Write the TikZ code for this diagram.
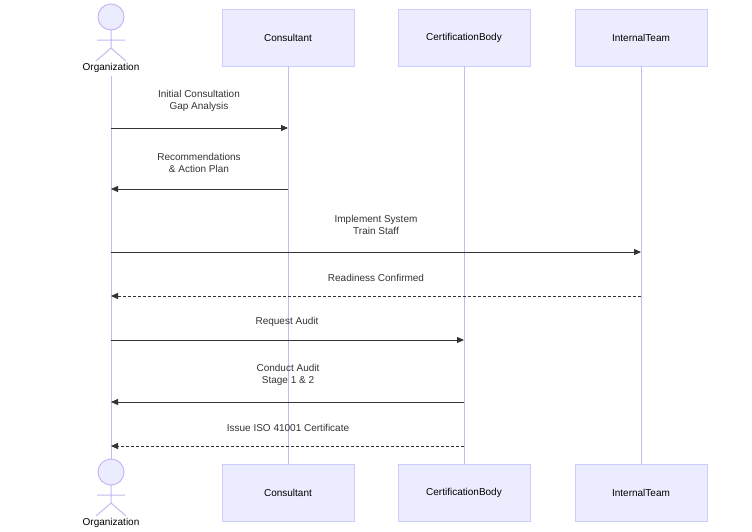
\documentclass[tikz,border=0pt]{standalone}
\usepackage{fontspec}
\setmainfont{Liberation Sans}
\usetikzlibrary{arrows.meta}
\definecolor{boxfill}{HTML}{ECECFF}
\definecolor{boxline}{HTML}{CCCCFF}
\definecolor{lifeline}{HTML}{C8B8F0}
\definecolor{msg}{HTML}{333333}
\tikzset{
  actorbox/.style={draw=boxline, fill=boxfill, minimum width=132pt, minimum height=57pt, font=\fontsize{10}{12}\selectfont},
  life/.style={draw=lifeline, line width=1pt},
  stick/.style={draw=lifeline, fill=boxfill, line width=1pt},
  call/.style={draw=msg, line width=0.9pt, -{Triangle[length=7pt,width=6pt]}},
  reply/.style={call, dash pattern=on 3pt off 2pt},
  lbl/.style={font=\fontsize{10}{12}\selectfont, align=center, text=msg}
}
\begin{document}
\begin{tikzpicture}[x=1pt,y=-1pt]
  \useasboundingbox (0,0) rectangle (752,531);

  % participants
  \node[actorbox] (cons)  at (288,37.5) {Consultant};
  \node[actorbox] (cert)  at (464,37.5) {CertificationBody};
  \node[actorbox] (team)  at (641,37.5) {InternalTeam};
  \node[actorbox] (consB) at (288,492.5) {Consultant};
  \node[actorbox] (certB) at (464,492.5) {CertificationBody};
  \node[actorbox] (teamB) at (641,492.5) {InternalTeam};

  % organization actor, top and bottom
  \foreach \y/\n in {0/orgT, 455/orgB} {
    \begin{scope}[yshift=-\y pt]
      \draw[stick] (111,17) circle (13);
      \draw[stick] (111,30) -- (111,48) (97,40) -- (125,40)
                   (111,48) -- (96,61) (111,48) -- (126,61);
      \node[lbl, text=black] (\n) at (111,68) {Organization};
    \end{scope}
  }

  % lifelines
  \draw[life] (orgT.south) -- (111,460);
  \draw[life] (cons.south) -- (consB.north);
  \draw[life] (cert.south) -- (certB.north);
  \draw[life] (team.south) -- (teamB.north);

  % message anchors
  \coordinate (o1) at (111,128); \coordinate (c1) at (288,128);
  \coordinate (o2) at (111,189); \coordinate (c2) at (288,189);
  \coordinate (o3) at (111,252); \coordinate (t3) at (641,252);
  \coordinate (o4) at (111,296); \coordinate (t4) at (641,296);
  \coordinate (o5) at (111,340); \coordinate (b5) at (464,340);
  \coordinate (o6) at (111,402); \coordinate (b6) at (464,402);
  \coordinate (o7) at (111,446); \coordinate (b7) at (464,446);

  \draw[call]  (o1) -- (c1);
  \draw[call]  (c2) -- (o2);
  \draw[call]  (o3) -- (t3);
  \draw[reply] (t4) -- (o4);
  \draw[call]  (o5) -- (b5);
  \draw[call]  (b6) -- (o6);
  \draw[reply] (b7) -- (o7);

  \node[lbl] (m1) at (199,101) {Initial Consultation\\Gap Analysis};
  \node[lbl] (m2) at (199,163) {Recommendations\\\& Action Plan};
  \node[lbl] (m3) at (376,225) {Implement System\\Train Staff};
  \node[lbl] (m4) at (376,278) {Readiness Confirmed};
  \node[lbl] (m5) at (287,322) {Request Audit};
  \node[lbl] (m6) at (288,375) {Conduct Audit\\Stage 1 \& 2};
  \node[lbl] (m7) at (288,428) {Issue ISO 41001 Certificate};
\end{tikzpicture}
\end{document}
